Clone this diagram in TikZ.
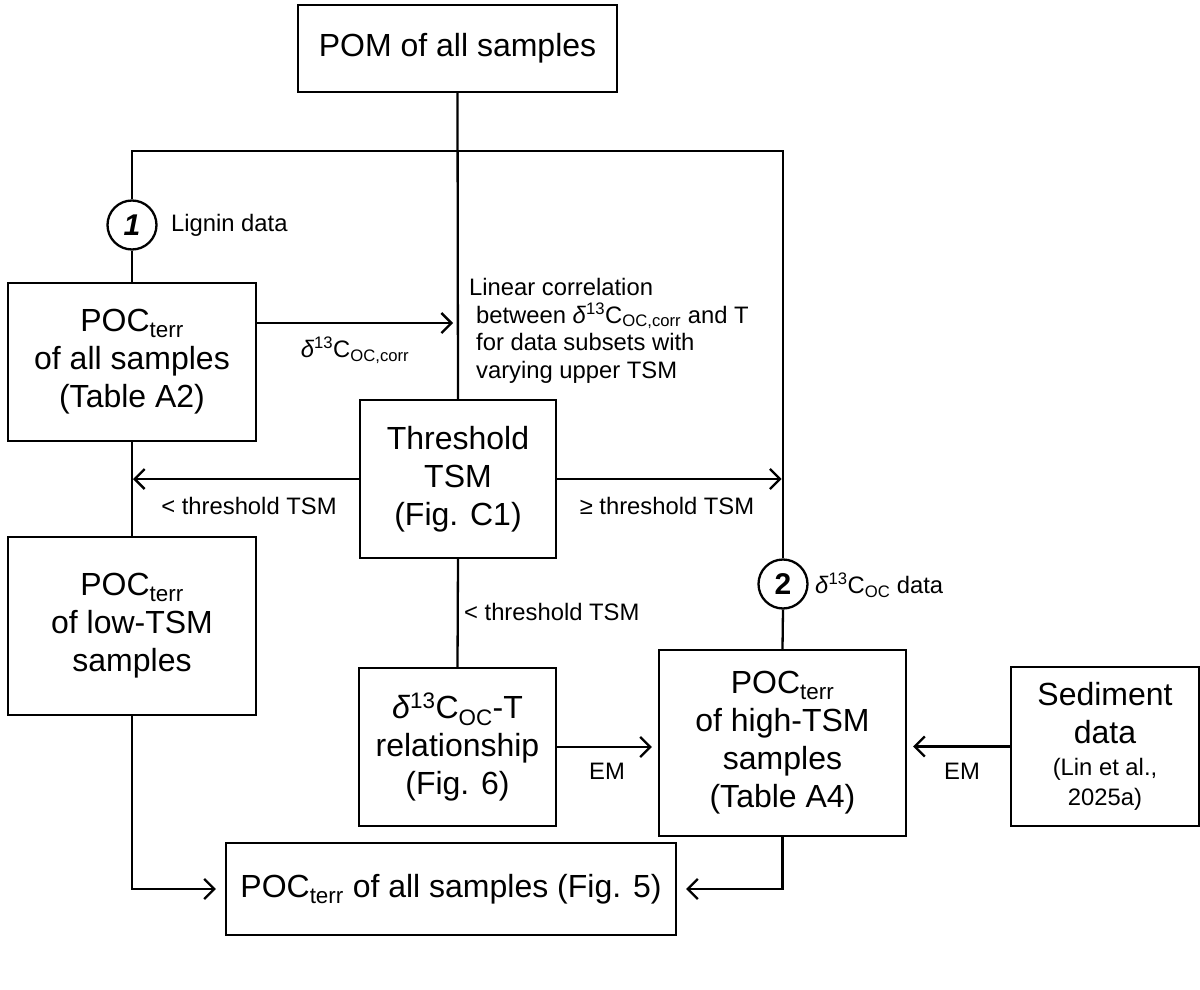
\documentclass[tikz,border=0pt]{standalone}
\usepackage{fontspec}
\setmainfont{Liberation Sans}
\usetikzlibrary{arrows.meta}
\newcommand\dl{\textit{δ}}
\newcommand\sbs[1]{\textsubscript{#1}}
\newcommand\sps[1]{\textsuperscript{#1}}
\begin{document}
\begin{tikzpicture}[x=1pt,y=-1pt,line width=2.3pt,
  box/.style={draw,rectangle,inner sep=0pt,align=center,font=\fontsize{32}{38}\selectfont},
  lbl/.style={inner sep=0pt,font=\fontsize{23.8}{27.8}\selectfont},
  num/.style={draw,circle,minimum size=49pt,inner sep=0pt,font=\fontsize{30}{30}\selectfont\bfseries},
  arr/.style={-{Straight Barb[length=10pt,width=20pt]}}]
\useasboundingbox (0,0) rectangle (1200,990);

% boxes
\node[box,minimum width=319pt,minimum height=87pt]  (pom)  at (457.5,48.5) {POM of all samples};
\node[box,minimum width=248pt,minimum height=158pt] (allA) at (132,362)    {POC\sbs{terr}\\of all samples\\(Table A2)};
\node[box,minimum width=196pt,minimum height=158pt] (thr)  at (458,479)    {Threshold\\TSM\\(Fig. C1)};
\node[box,minimum width=248pt,minimum height=178pt] (low)  at (132,626)    {POC\sbs{terr}\\of low-TSM\\samples};
\node[box,minimum width=197pt,minimum height=158pt] (rel)  at (457.5,747)  {\dl\sps{13}C\sbs{OC}-T\\relationship\\(Fig. 6)};
\node[box,minimum width=247pt,minimum height=186pt] (high) at (782.5,743)  {POC\sbs{terr}\\of high-TSM\\samples\\(Table A4)};
\node[box,minimum width=188pt,minimum height=159pt] (sed)  at (1105,746.5) {Sediment\\data\\[-6pt]{\fontsize{23.8}{26}\selectfont (Lin et al.,}\\[-8pt]{\fontsize{23.8}{26}\selectfont 2025a)}};
\node[box,minimum width=450pt,minimum height=92pt]  (fin)  at (451,889)    {POC\sbs{terr} of all samples (Fig. 5)};

% numbered markers
\node[num] (n1) at (132,225) {\itshape 1};
\node[num] (n2) at (783,584) {2};

% branching coordinates
\coordinate (hl) at (132,151);
\coordinate (hr) at (783,151);
\coordinate (corr) at (458,323);

% connectors
\draw (pom.south) -- (thr.north);
\draw (n1.north) -- (hl) -- (hr) -- (n2.north);
\draw (n1.south) -- (allA.north);
\draw (n2.south) -- (high.north);
\draw (allA.south) -- (low.north);
\draw (thr.south) -- (rel.north);
\draw[arr,shorten >=5pt] (allA.east |- corr) -- (corr);
\draw[arr,shorten >=1pt] (thr.west) -- (allA.south |- thr.west);
\draw[arr,shorten >=1pt] (thr.east) -- (high.north |- thr.east);
\draw[arr,shorten >=6pt] (rel.east) -- (high.west |- rel.east);
\draw[arr,shorten >=6pt] (sed.west) -- (high.east |- sed.west);
\draw[arr,shorten >=9pt] (low.south) |- (fin.west);
\draw[arr,shorten >=9pt] (high.south) |- (fin.east);

% labels
\node[lbl,anchor=west] (l1) at (170,225) {Lignin data};
\node[lbl] (l2) at (355,350) {\dl\sps{13}C\sbs{OC,corr}};
\node[lbl,anchor=north west,align=left] (l3) at (468,277)
  {Linear correlation\\\hspace*{7pt}between \dl\sps{13}C\sbs{OC,corr} and T\\\hspace*{7pt}for data subsets with\\\hspace*{7pt}varying upper TSM};
\node[lbl] (l4) at (249,506) {< threshold TSM};
\node[lbl] (l5) at (667,506) {≥ threshold TSM};
\node[lbl,anchor=west] (l6) at (463,612) {< threshold TSM};
\node[lbl,anchor=west] (l7) at (814,585) {\dl\sps{13}C\sbs{OC} data};
\node[lbl] (l8) at (607,771) {EM};
\node[lbl] (l9) at (962,771) {EM};
\end{tikzpicture}
\end{document}
